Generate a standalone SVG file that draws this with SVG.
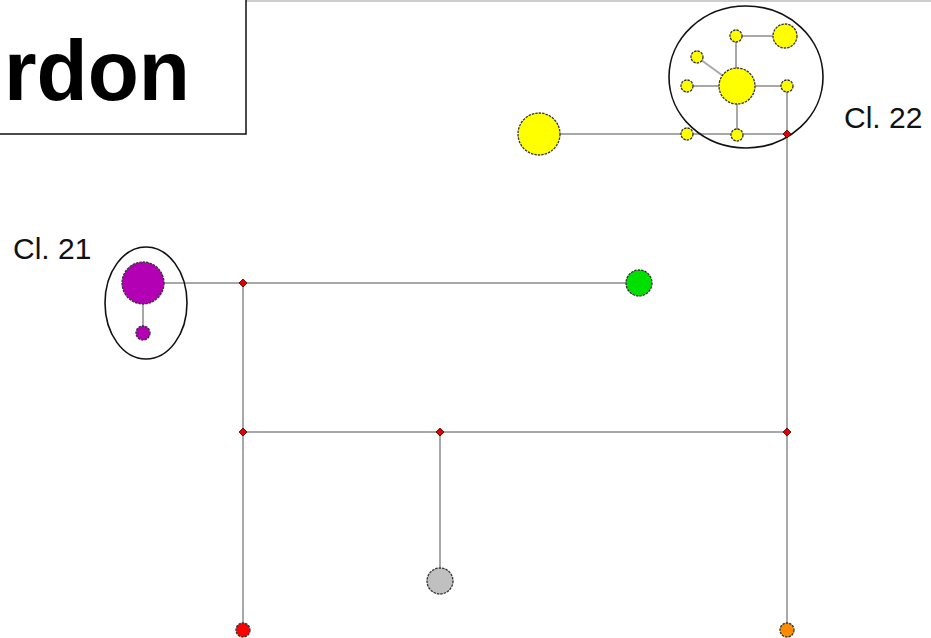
<svg xmlns="http://www.w3.org/2000/svg" width="931" height="638" viewBox="0 0 931 638">
<style>
.edge{stroke:#a8a8a8;stroke-width:2;fill:none}
.node{stroke:#333;stroke-width:1.3;stroke-dasharray:2.5 1}
.jn{fill:#e00000;stroke:#400;stroke-width:0.8}
.lbl{font-family:"Liberation Sans",Arial,sans-serif;font-size:30px;fill:#111}
.hull{fill:none;stroke:#111;stroke-width:1.6}
</style>
<rect width="931" height="638" fill="#fff"/>
<line x1="0" y1="1" x2="931" y2="1" stroke="#bbb" stroke-width="1.5"/>
<g id="title">
<rect x="-10" y="-5" width="256" height="139" fill="#fff" stroke="#111" stroke-width="1.5"/>
<text x="4" y="100" font-family="Liberation Sans,Arial,sans-serif" font-weight="bold" font-size="86" fill="#000" textLength="186" lengthAdjust="spacingAndGlyphs">rdon</text>
</g>
<g id="connectors">
<line class="edge" x1="143" y1="283" x2="639" y2="283"/>
<line class="edge" x1="143" y1="283" x2="143" y2="333"/>
<line class="edge" x1="243" y1="283" x2="243" y2="630"/>
<line class="edge" x1="243" y1="432" x2="787" y2="432"/>
<line class="edge" x1="440" y1="432" x2="440" y2="581"/>
<line class="edge" x1="787" y1="86" x2="787" y2="630"/>
<line class="edge" x1="539" y1="134" x2="787" y2="134"/>
<line class="edge" x1="737" y1="86" x2="737" y2="136"/>
<line class="edge" x1="736" y1="36" x2="736" y2="86"/>
<line class="edge" x1="736" y1="36" x2="785" y2="36"/>
<line class="edge" x1="697" y1="57" x2="737" y2="86"/>
<line class="edge" x1="687" y1="86" x2="787" y2="86"/>
</g>
<g id="cluster22">
<ellipse class="hull" cx="746" cy="77" rx="77" ry="71"/>
<text class="lbl" x="844" y="128">Cl. 22</text>
</g>
<g id="cluster21">
<ellipse class="hull" cx="146" cy="303" rx="41" ry="56"/>
<text class="lbl" x="13" y="259">Cl. 21</text>
</g>
<g id="n_y_big"><circle class="node" cx="737" cy="86" r="18" fill="#ffff00"/></g>
<g id="n_y_top"><circle class="node" cx="736" cy="36" r="6" fill="#ffff00"/></g>
<g id="n_y_tr"><circle class="node" cx="785" cy="36" r="12" fill="#ffff00"/></g>
<g id="n_y_ul"><circle class="node" cx="697" cy="57" r="6" fill="#ffff00"/></g>
<g id="n_y_l"><circle class="node" cx="687" cy="86" r="6" fill="#ffff00"/></g>
<g id="n_y_r"><circle class="node" cx="787" cy="86" r="6" fill="#ffff00"/></g>
<g id="n_y_b"><circle class="node" cx="737" cy="135" r="6" fill="#ffff00"/></g>
<g id="n_y_bl"><circle class="node" cx="687" cy="134" r="6" fill="#ffff00"/></g>
<g id="n_y_far"><circle class="node" cx="539" cy="134" r="21" fill="#ffff00"/></g>
<g id="n_p_big"><circle class="node" cx="143" cy="283" r="21" fill="#b400b4"/></g>
<g id="n_p_small"><circle class="node" cx="143" cy="333" r="7" fill="#b400b4"/></g>
<g id="n_green"><circle class="node" cx="639" cy="283" r="13" fill="#00e000"/></g>
<g id="n_gray"><circle class="node" cx="440" cy="581" r="13" fill="#c0c0c0"/></g>
<g id="n_red"><circle class="node" cx="243" cy="630" r="7" fill="#ff0000"/></g>
<g id="n_orange"><circle class="node" cx="787" cy="630" r="7" fill="#ff8c00"/></g>
<g id="j1"><polygon class="jn" points="787,130 791,134 787,138 783,134"/></g>
<g id="j2"><polygon class="jn" points="243,279 247,283 243,287 239,283"/></g>
<g id="j3"><polygon class="jn" points="243,428 247,432 243,436 239,432"/></g>
<g id="j4"><polygon class="jn" points="440,428 444,432 440,436 436,432"/></g>
<g id="j5"><polygon class="jn" points="787,428 791,432 787,436 783,432"/></g>
</svg>
